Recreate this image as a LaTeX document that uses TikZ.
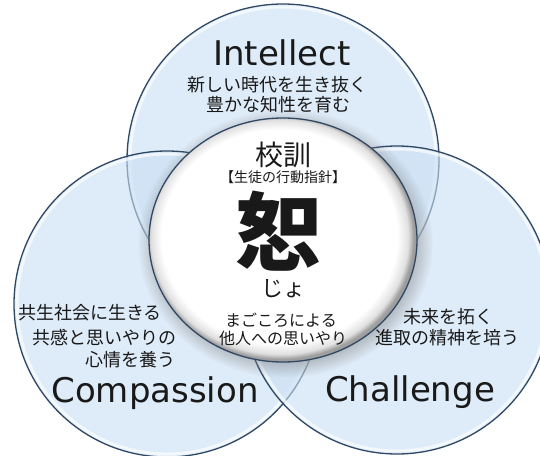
\documentclass[tikz,border=0pt]{standalone}
\usepackage{fontspec}
\setmainfont{Noto Sans CJK JP}
\newfontfamily\latinfont{DejaVu Sans}
\usetikzlibrary{shapes.geometric}
\usetikzlibrary{shadows}
\definecolor{skyfill}{RGB}{200,222,243}
\definecolor{rimline}{RGB}{48,72,100}
\definecolor{ink}{RGB}{25,25,25}
\pgfdeclareradialshading{sealglass}{\pgfpoint{-1.2bp}{1.2bp}}{color(0bp)=(white); color(22bp)=(white); color(24bp)=(black!12); color(25bp)=(black!38); color(50bp)=(black!38)}

\begin{document}
\begin{tikzpicture}[x=1pt,y=-1pt,
    bubble/.style={circle,draw=rimline,line width=1.3pt,fill=skyfill,fill opacity=0.6,inner sep=0pt,minimum size=#1},
    gloss/.style={white,opacity=0.65,line width=3pt},
    seal/.style={ellipse,draw=rimline,line width=1.3pt,shade,shading=sealglass,inner sep=0pt,minimum width=268pt,minimum height=244pt,circular drop shadow={shadow xshift=2pt,shadow yshift=-3pt,opacity=0.55}},
    jp/.style={inner sep=0pt,text=ink,font=\fontsize{#1}{#1}\selectfont},
    eng/.style={inner sep=0pt,anchor=base,text=ink,font=\latinfont\fontsize{34}{34}\selectfont}]
  \path[use as bounding box,clip] (0,0) rectangle (540,455);
  \foreach \n/\x/\y/\r in {intellect/283/160/156,compassion/167/304/153,challenge/397/300/154}{
    \node[bubble=2*\r] (\n) at (\x,\y) {};
    \draw[gloss] (\x,\y) circle (\r-3);
  }
  \node[seal] (motto) at (283,240) {};

  \node[eng] (intellectname) at (282,65) {Intellect};
  \node[jp=18] (intellect1) at (277,85) {新しい時代を生き抜く};
  \node[jp=18] (intellect2) at (278,105) {豊かな知性を育む};
  \node[jp=28] (kokun) at (283,155) {校訓};
  \node[jp=14] (kokunsub) at (283,177) {【生徒の行動指針】};
  \node[jp=86] (jo) at (278,231) {\bfseries 恕};
  \node[jp=22] (joread) at (283,289) {じょ};
  \node[jp=16] (motto1) at (281,320) {まごころによる};
  \node[jp=16] (motto2) at (283,338) {他人への思いやり};

  \node[jp=18] (compassion1) at (90,313) {共生社会に生きる};
  \node[jp=18] (compassion2) at (104,338) {共感と思いやりの};
  \node[jp=18] (compassion3) at (130,360) {心情を養う};
  \node[eng] (compassionname) at (155,402) {Compassion};

  \node[jp=18] (challenge1) at (448,317) {未来を拓く};
  \node[jp=18] (challenge2) at (447,338) {進取の精神を培う};
  \node[eng] (challengename) at (410,401) {Challenge};
\end{tikzpicture}
\end{document}
